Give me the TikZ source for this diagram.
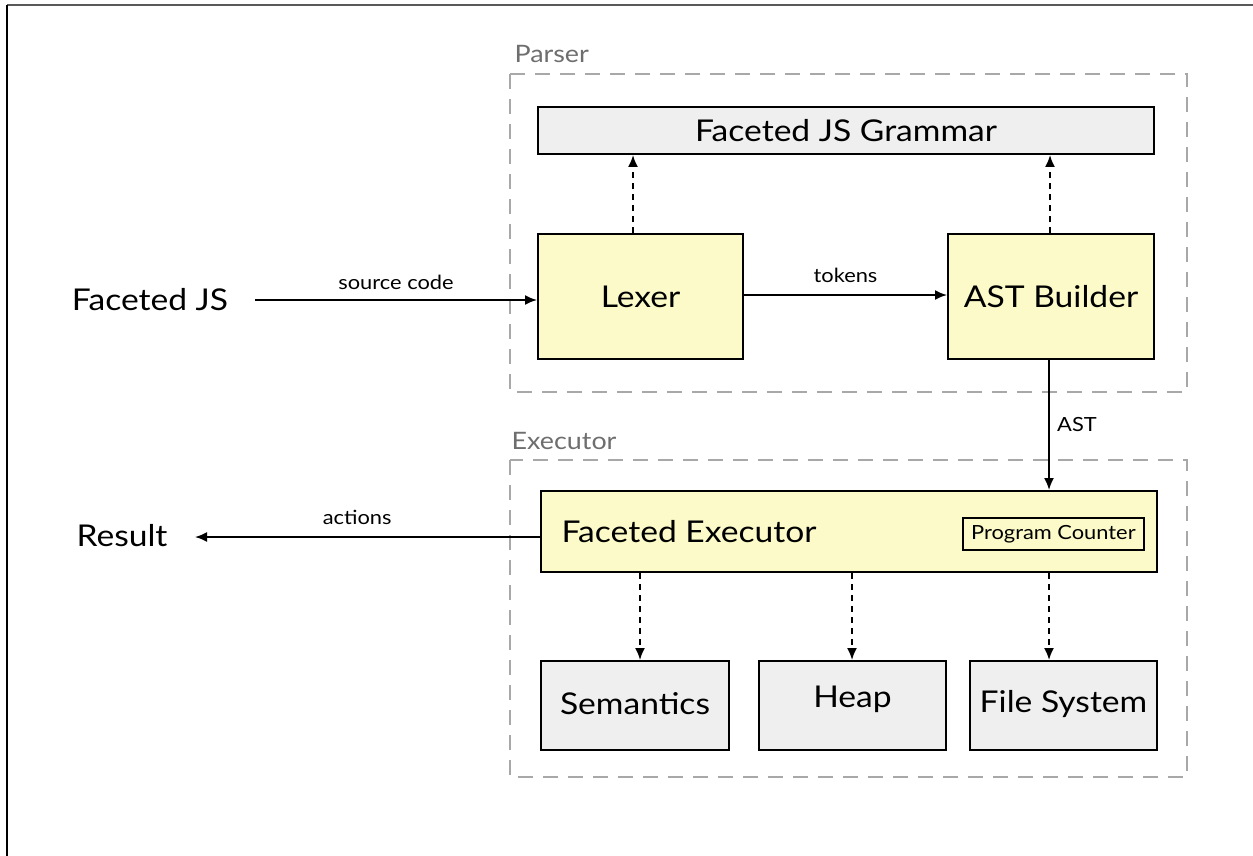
\documentclass[tikz,border=0pt]{standalone}
\usepackage{fontspec}
\setmainfont{Lato}[FakeStretch=1.12]
\usetikzlibrary{arrows.meta}
\definecolor{boxyellow}{HTML}{FBFAC8}
\definecolor{boxgray}{HTML}{EFEFEF}
\definecolor{dashgray}{HTML}{A8A8A8}
\definecolor{labelgray}{HTML}{6E6E6E}
\begin{document}
\begin{tikzpicture}[x=1pt,y=-1pt,
  blk/.style={draw=black,line width=2pt,inner sep=0pt,anchor=north west},
  ylw/.style={blk,fill=boxyellow},
  gry/.style={blk,fill=boxgray},
  grp/.style={draw=dashgray,line width=2.5pt,dash pattern=on 15pt off 10pt},
  grplabel/.style={text=labelgray,font=\fontsize{24}{28}\selectfont,anchor=west},
  big/.style={font=\fontsize{30}{34}\selectfont},
  small/.style={font=\fontsize{19.5}{23}\selectfont},
  arr/.style={line width=1.8pt,-{Latex[length=12pt,width=10pt]}},
  darr/.style={arr,dash pattern=on 6pt off 5pt},
]
\useasboundingbox (0,0) rectangle (1253,856);
\draw[line width=1.5pt,draw=black!65] (7,5) -- (1253,5);
\draw[line width=1.5pt] (7,5) -- (7,856);

% groups
\draw[grp] (510,74) rectangle (1187,392);
\node[grplabel] (parserlbl) at (511,54) {Parser};
\draw[grp] (510,460) rectangle (1187,777);
\node[grplabel] (execlbl) at (508,441) {Executor};

% parser nodes
\node[gry,minimum width=616pt,minimum height=47pt] (grammar) at (537,106) {};
\node[big] at (grammar.center) {Faceted JS Grammar};
\node[ylw,minimum width=205pt,minimum height=125pt] (lexer) at (537,233) {};
\node[big] at (lexer.center) {Lexer};
\node[ylw,minimum width=206pt,minimum height=125pt] (ast) at (947,233) {};
\node[big] at (ast.center) {AST Builder};

\node[big] (src) at (150,300) {Faceted JS};
\node[big] (result) at (122,536) {Result};

% executor
\node[ylw,minimum width=616pt,minimum height=81pt] (fexec) at (540,490) {};
\node[big,anchor=west] (fexectxt) at (558,532) {Faceted Executor};
\node[blk,fill=boxyellow,minimum width=181pt,minimum height=32pt,line width=1.8pt] (pc) at (962,517) {};
\node[small] at (pc.center) {Program Counter};

\node[gry,minimum width=188pt,minimum height=89pt] (sem) at (540,660) {};
\node[big] at ([yshift=2pt]sem.center) {Semantics};
\node[gry,minimum width=187pt,minimum height=89pt] (heap) at (758,660) {};
\node[big] at ([yshift=6pt]heap.center) {Heap};
\node[gry,minimum width=187pt,minimum height=89pt] (fs) at (969,660) {};
\node[big] at ([yshift=1pt]fs.center) {File System};

% connectors
\draw[arr] (255,300) -- (lexer.west |- 0,300) node[midway,above=6pt,small] {source code};
\draw[arr] (lexer.east |- 0,295) -- (ast.west |- 0,295) node[midway,above=8pt,small] {tokens};
\draw[arr] (ast.south -| 1049,0) -- (fexec.north -| 1049,0) node[midway,right=4pt,small] {AST};
\draw[arr] (fexec.west |- 0,537) -- (195,537) node[pos=0.53,above=8pt,small] {actions};

\draw[darr] (lexer.north -| 633,0) -- (grammar.south -| 633,0);
\draw[darr] (ast.north -| 1050,0) -- (grammar.south -| 1050,0);
\draw[darr] (fexec.south -| 640,0) -- (sem.north -| 640,0);
\draw[darr] (fexec.south -| 852,0) -- (heap.north -| 852,0);
\draw[darr] (fexec.south -| 1049,0) -- (fs.north -| 1049,0);
\end{tikzpicture}
\end{document}
